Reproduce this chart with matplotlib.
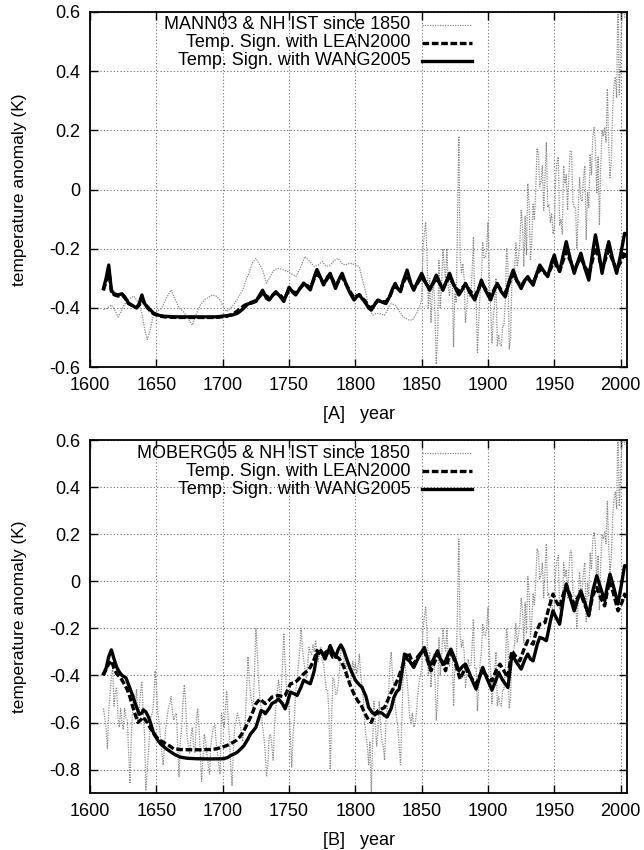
import numpy as np
import matplotlib
matplotlib.use("Agg")
import matplotlib.pyplot as plt
from matplotlib.ticker import FuncFormatter, MultipleLocator

# ---------------------------------------------------------------
#  data
# ---------------------------------------------------------------

# NH instrumental record (annual, 1850-2003), shared by both panels
ist_years = list(range(1850, 2004))
ist_vals = [
    -0.37, -0.20, -0.15, -0.11, -0.22, -0.40, -0.30, -0.45, -0.35, -0.31,
    -0.42, -0.59, -0.49, -0.24, -0.40, -0.32, -0.20, -0.26, -0.30, -0.20,
    -0.33, -0.36, -0.29, -0.30, -0.53, -0.35, -0.38, -0.10, 0.18, -0.23,
    -0.28, -0.25, -0.30, -0.45, -0.40, -0.33, -0.36, -0.36, -0.28, -0.16,
    -0.37, -0.37, -0.55, -0.45, -0.35, -0.30, -0.18, -0.23, -0.23, -0.20,
    -0.11, -0.29, -0.40, -0.52, -0.43, -0.38, -0.30, -0.53, -0.49, -0.52,
    -0.53, -0.46, -0.46, -0.38, -0.20, -0.25, -0.54, -0.50, -0.31, -0.30,
    -0.27, -0.18, -0.26, -0.23, -0.18, -0.07, -0.12, -0.26, -0.09, -0.22,
    0.02, -0.05, -0.24, -0.17, -0.05, -0.10, 0.00, 0.14, 0.12, 0.01,
    0.03, 0.08, -0.07, 0.05, 0.16, -0.06, -0.05, -0.11, -0.08, -0.15,
    -0.13, 0.04, 0.09, 0.11, -0.12, -0.10, -0.15, 0.08, 0.02, 0.05,
    -0.07, 0.05, 0.13, 0.13, -0.04, -0.06, -0.06, -0.20, -0.08, 0.04,
    -0.03, -0.04, 0.04, 0.08, -0.17, -0.01, -0.06, 0.12, 0.05, 0.18,
    0.21, 0.15, -0.01, 0.11, -0.12, 0.08, 0.20, 0.18, 0.21, 0.16,
    0.34, 0.15, 0.04, 0.10, 0.27, 0.35, 0.38, 0.31, 0.68, 0.32,
    0.45, 0.62, 0.66, 0.58,
]

# MANN03 reconstruction before 1850 (smooth)
mann_years = [1610, 1613, 1616, 1619, 1621, 1623, 1625, 1628, 1630, 1633,
              1636, 1639, 1641, 1643, 1645, 1648, 1651, 1654, 1657, 1661,
              1664, 1667, 1670, 1673, 1677, 1680, 1683, 1687, 1692, 1695,
              1698, 1701, 1703, 1706, 1708, 1711, 1715, 1718, 1720, 1722,
              1725, 1728, 1730, 1733, 1735, 1738, 1741, 1745, 1749, 1752,
              1755, 1758, 1762, 1765, 1769, 1772, 1775, 1778, 1781, 1784,
              1787, 1790, 1792, 1795, 1797, 1800, 1803, 1805, 1808, 1810,
              1813, 1816, 1819, 1822, 1825, 1827, 1830, 1833, 1836, 1840,
              1843, 1846, 1848, 1849]
mann_vals = [-0.406, -0.40, -0.39, -0.41, -0.43, -0.415, -0.395, -0.375, -0.367, -0.36,
             -0.38, -0.418, -0.47, -0.506, -0.48, -0.418, -0.41, -0.40, -0.37, -0.339,
             -0.37, -0.40, -0.41, -0.43, -0.458, -0.42, -0.39, -0.37, -0.356, -0.36,
             -0.373, -0.40, -0.412, -0.40, -0.39, -0.37, -0.339, -0.30, -0.28, -0.25,
             -0.232, -0.255, -0.271, -0.316, -0.30, -0.275, -0.266, -0.27, -0.277, -0.285,
             -0.294, -0.27, -0.226, -0.24, -0.26, -0.255, -0.243, -0.26, -0.255, -0.24,
             -0.232, -0.25, -0.255, -0.25, -0.249, -0.255, -0.26, -0.30, -0.35, -0.40,
             -0.424, -0.418, -0.42, -0.424, -0.40, -0.385, -0.39, -0.41, -0.43, -0.44,
             -0.441, -0.42, -0.40, -0.39]

# MOBERG05 reconstruction before 1850 (annual)
moberg_years = list(range(1610, 1850))
moberg_vals = [
    -0.54, -0.58, -0.62, -0.71, -0.55, -0.48, -0.40, -0.37, -0.53, -0.47,
    -0.45, -0.58, -0.62, -0.54, -0.60, -0.63, -0.54, -0.58, -0.59, -0.72,
    -0.86, -0.66, -0.55, -0.48, -0.52, -0.46, -0.60, -0.54, -0.47, -0.43,
    -0.55, -0.65, -0.89, -0.80, -0.73, -0.62, -0.57, -0.56, -0.50, -0.38,
    -0.45, -0.56, -0.60, -0.66, -0.72, -0.78, -0.70, -0.62, -0.58, -0.54,
    -0.52, -0.49, -0.55, -0.59, -0.57, -0.56, -0.70, -0.83, -0.68, -0.62,
    -0.51, -0.44, -0.52, -0.65, -0.70, -0.73, -0.66, -0.62, -0.70, -0.73,
    -0.60, -0.54, -0.61, -0.72, -0.85, -0.76, -0.65, -0.68, -0.73, -0.78,
    -0.82, -0.70, -0.65, -0.62, -0.61, -0.68, -0.73, -0.78, -0.82, -0.56,
    -0.60, -0.62, -0.54, -0.47, -0.58, -0.66, -0.78, -0.87, -0.72, -0.62,
    -0.60, -0.56, -0.58, -0.61, -0.64, -0.68, -0.63, -0.59, -0.45, -0.32,
    -0.42, -0.48, -0.52, -0.55, -0.38, -0.20, -0.30, -0.42, -0.50, -0.54,
    -0.62, -0.66, -0.73, -0.83, -0.78, -0.66, -0.65, -0.70, -0.76, -0.62,
    -0.54, -0.48, -0.42, -0.47, -0.48, -0.36, -0.22, -0.35, -0.45, -0.50,
    -0.54, -0.66, -0.79, -0.65, -0.58, -0.47, -0.42, -0.36, -0.30, -0.20,
    -0.28, -0.33, -0.38, -0.41, -0.36, -0.28, -0.30, -0.31, -0.27, -0.30,
    -0.25, -0.30, -0.34, -0.30, -0.28, -0.34, -0.35, -0.40, -0.46, -0.46,
    -0.55, -0.80, -0.60, -0.41, -0.42, -0.48, -0.48, -0.44, -0.38, -0.30,
    -0.28, -0.30, -0.37, -0.35, -0.39, -0.42, -0.45, -0.40, -0.34, -0.38,
    -0.34, -0.39, -0.36, -0.31, -0.40, -0.45, -0.50, -0.60, -0.66, -0.70,
    -0.78, -0.68, -0.91, -0.68, -0.51, -0.60, -0.70, -0.64, -0.51, -0.62,
    -0.68, -0.70, -0.76, -0.60, -0.54, -0.48, -0.36, -0.30, -0.40, -0.45,
    -0.52, -0.58, -0.62, -0.70, -0.78, -0.60, -0.40, -0.33, -0.38, -0.42,
    -0.50, -0.58, -0.60, -0.56, -0.62, -0.61, -0.56, -0.48, -0.43, -0.40,
]

# panel A: temperature signal, WANG2005 (solid) and LEAN2000 (dashed)
a_years = [1610, 1612, 1614, 1616, 1618, 1621, 1624, 1626, 1629, 1632,
           1635, 1637, 1639, 1641, 1643, 1645, 1648, 1652, 1656, 1665,
           1680, 1695, 1703, 1708, 1711, 1714, 1716, 1719, 1722, 1725,
           1728, 1730, 1733, 1735, 1738, 1740, 1743, 1746, 1748, 1750,
           1753, 1755, 1758, 1761, 1764, 1766, 1769, 1771, 1774, 1776,
           1779, 1781, 1783, 1785, 1788, 1790, 1793, 1796, 1799, 1801,
           1803, 1805, 1807, 1810, 1812, 1815, 1817, 1820, 1823, 1826,
           1828, 1830, 1832, 1834, 1836, 1839, 1842, 1844, 1847, 1850,
           1853, 1856, 1859, 1861, 1864, 1866, 1869, 1871, 1874, 1878,
           1881, 1883, 1886, 1890, 1893, 1895, 1898, 1902, 1905, 1907,
           1910, 1913, 1916, 1919, 1922, 1925, 1928, 1930, 1932, 1934,
           1937, 1939, 1942, 1945, 1948, 1950, 1952, 1954, 1957, 1959,
           1962, 1965, 1968, 1970, 1973, 1976, 1979, 1981, 1984, 1986,
           1989, 1991, 1994, 1997, 2000, 2003, 2004]
a_wang = [-0.335, -0.30, -0.255, -0.34, -0.352, -0.356, -0.352, -0.362, -0.384, -0.392,
          -0.40, -0.385, -0.356, -0.385, -0.395, -0.405, -0.418, -0.425, -0.428, -0.43,
          -0.43, -0.43, -0.426, -0.423, -0.418, -0.408, -0.40, -0.386, -0.383, -0.378,
          -0.355, -0.34, -0.368, -0.373, -0.355, -0.345, -0.36, -0.378, -0.355, -0.33,
          -0.348, -0.356, -0.335, -0.316, -0.33, -0.339, -0.295, -0.27, -0.30, -0.322,
          -0.295, -0.283, -0.31, -0.334, -0.30, -0.283, -0.32, -0.35, -0.373, -0.362,
          -0.356, -0.368, -0.379, -0.40, -0.407, -0.385, -0.373, -0.38, -0.385, -0.36,
          -0.335, -0.317, -0.335, -0.345, -0.31, -0.272, -0.32, -0.34, -0.31, -0.283,
          -0.315, -0.34, -0.31, -0.289, -0.32, -0.34, -0.305, -0.283, -0.32, -0.356,
          -0.335, -0.317, -0.345, -0.373, -0.335, -0.306, -0.34, -0.373, -0.335, -0.317,
          -0.345, -0.362, -0.31, -0.272, -0.31, -0.334, -0.305, -0.294, -0.31, -0.323,
          -0.28, -0.255, -0.275, -0.294, -0.245, -0.221, -0.255, -0.277, -0.215, -0.176,
          -0.235, -0.283, -0.24, -0.215, -0.265, -0.306, -0.21, -0.153, -0.225, -0.283,
          -0.215, -0.176, -0.235, -0.283, -0.22, -0.148, -0.15]
a_lean = [-0.34, -0.31, -0.27, -0.345, -0.355, -0.36, -0.356, -0.365, -0.385, -0.392,
          -0.398, -0.39, -0.37, -0.385, -0.398, -0.408, -0.42, -0.427, -0.43, -0.432,
          -0.432, -0.432, -0.428, -0.42, -0.41, -0.40, -0.392, -0.385, -0.38, -0.375,
          -0.36, -0.35, -0.36, -0.365, -0.355, -0.35, -0.355, -0.37, -0.355, -0.34,
          -0.345, -0.35, -0.335, -0.32, -0.325, -0.333, -0.30, -0.285, -0.30, -0.32,
          -0.30, -0.29, -0.305, -0.325, -0.305, -0.295, -0.32, -0.345, -0.365, -0.36,
          -0.355, -0.365, -0.375, -0.395, -0.40, -0.385, -0.375, -0.378, -0.38, -0.36,
          -0.34, -0.325, -0.335, -0.34, -0.315, -0.29, -0.32, -0.335, -0.315, -0.295,
          -0.315, -0.335, -0.315, -0.30, -0.32, -0.335, -0.31, -0.295, -0.32, -0.345,
          -0.33, -0.32, -0.34, -0.36, -0.335, -0.315, -0.335, -0.36, -0.335, -0.32,
          -0.34, -0.35, -0.315, -0.285, -0.31, -0.325, -0.305, -0.30, -0.31, -0.315,
          -0.285, -0.27, -0.28, -0.29, -0.26, -0.245, -0.26, -0.275, -0.235, -0.21,
          -0.24, -0.27, -0.245, -0.23, -0.26, -0.285, -0.235, -0.195, -0.235, -0.27,
          -0.23, -0.205, -0.24, -0.27, -0.245, -0.21, -0.23]

# panel B: temperature signal, WANG2005 (solid)
b_wang_years = [1610, 1612, 1614, 1616, 1618, 1620, 1622, 1624, 1627, 1629,
                1632, 1634, 1637, 1639, 1640, 1642, 1644, 1646, 1648, 1651,
                1653, 1657, 1661, 1664, 1668, 1673, 1680, 1690, 1701, 1704,
                1706, 1709, 1711, 1714, 1716, 1719, 1721, 1723, 1725, 1727,
                1729, 1731, 1732, 1735, 1737, 1740, 1742, 1745, 1747, 1749,
                1751, 1754, 1756, 1759, 1761, 1764, 1766, 1768, 1769, 1771,
                1773, 1774, 1776, 1777, 1780, 1781, 1783, 1785, 1787, 1789,
                1791, 1793, 1796, 1800, 1803, 1805, 1808, 1810, 1813, 1815,
                1818, 1820, 1822, 1824, 1827, 1829, 1831, 1833, 1835, 1837,
                1839, 1841, 1844, 1847, 1850, 1852, 1854, 1856, 1859, 1862,
                1864, 1867, 1870, 1872, 1875, 1878, 1881, 1883, 1886, 1888,
                1891, 1894, 1896, 1899, 1903, 1906, 1908, 1911, 1915, 1917,
                1918, 1921, 1925, 1928, 1930, 1932, 1934, 1937, 1939, 1942,
                1944, 1947, 1949, 1951, 1954, 1957, 1959, 1962, 1965, 1968,
                1970, 1973, 1976, 1979, 1982, 1985, 1988, 1990, 1992, 1995,
                1998, 2001, 2003, 2004]
b_wang = [-0.393, -0.37, -0.32, -0.291, -0.33, -0.365, -0.385, -0.40, -0.41, -0.44,
          -0.485, -0.52, -0.565, -0.56, -0.546, -0.555, -0.577, -0.61, -0.648, -0.675,
          -0.69, -0.71, -0.726, -0.737, -0.747, -0.752, -0.754, -0.755, -0.754, -0.748,
          -0.74, -0.733, -0.726, -0.71, -0.698, -0.67, -0.648, -0.635, -0.62, -0.585,
          -0.549, -0.555, -0.563, -0.54, -0.52, -0.51, -0.50, -0.52, -0.542, -0.51,
          -0.471, -0.478, -0.485, -0.45, -0.42, -0.43, -0.435, -0.40, -0.379, -0.308,
          -0.30, -0.294, -0.315, -0.33, -0.29, -0.273, -0.30, -0.322, -0.29, -0.27,
          -0.29, -0.323, -0.37, -0.42, -0.44, -0.45, -0.49, -0.536, -0.56, -0.565,
          -0.557, -0.56, -0.57, -0.576, -0.54, -0.494, -0.47, -0.458, -0.39, -0.309,
          -0.33, -0.34, -0.366, -0.33, -0.30, -0.281, -0.32, -0.359, -0.33, -0.295,
          -0.33, -0.352, -0.31, -0.288, -0.33, -0.38, -0.36, -0.352, -0.39, -0.42,
          -0.458, -0.40, -0.366, -0.41, -0.462, -0.42, -0.387, -0.42, -0.451, -0.36,
          -0.309, -0.34, -0.373, -0.33, -0.309, -0.33, -0.338, -0.27, -0.238, -0.245,
          -0.252, -0.17, -0.125, -0.15, -0.182, -0.07, -0.011, -0.07, -0.125, -0.07,
          -0.04, -0.09, -0.146, -0.04, 0.024, -0.03, -0.082, -0.02, 0.031, -0.03,
          -0.096, 0.0, 0.067, 0.065]

# panel B: temperature signal, LEAN2000 (dashed)
b_lean_years = [1610, 1613, 1616, 1618, 1620, 1623, 1625, 1628, 1630, 1633,
                1636, 1638, 1640, 1643, 1645, 1648, 1650, 1653, 1657, 1660,
                1663, 1668, 1675, 1685, 1693, 1698, 1703, 1706, 1710, 1713,
                1716, 1719, 1721, 1723, 1725, 1728, 1730, 1732, 1735, 1737,
                1740, 1742, 1745, 1747, 1749, 1751, 1754, 1756, 1759, 1761,
                1764, 1766, 1769, 1771, 1773, 1775, 1777, 1779, 1781, 1783,
                1786, 1788, 1791, 1793, 1796, 1799, 1802, 1804, 1807, 1810,
                1812, 1814, 1817, 1819, 1822, 1824, 1827, 1830, 1832, 1835,
                1837, 1840, 1842, 1844, 1847, 1850, 1852, 1854, 1857, 1860,
                1862, 1865, 1868, 1870, 1872, 1875, 1879, 1881, 1883, 1886,
                1888, 1891, 1894, 1896, 1900, 1903, 1906, 1909, 1912, 1915,
                1917, 1918, 1921, 1924, 1927, 1930, 1932, 1934, 1936, 1939,
                1941, 1943, 1946, 1949, 1951, 1954, 1957, 1959, 1962, 1965,
                1968, 1970, 1973, 1976, 1979, 1982, 1985, 1988, 1990, 1992,
                1995, 1998, 2001, 2003, 2004]
b_lean = [-0.40, -0.36, -0.337, -0.37, -0.393, -0.41, -0.429, -0.46, -0.492, -0.55,
          -0.60, -0.59, -0.577, -0.60, -0.62, -0.645, -0.662, -0.677, -0.69, -0.70,
          -0.712, -0.715, -0.716, -0.716, -0.714, -0.708, -0.698, -0.69, -0.677, -0.66,
          -0.634, -0.60, -0.577, -0.55, -0.52, -0.50, -0.51, -0.52, -0.505, -0.492,
          -0.488, -0.485, -0.49, -0.485, -0.46, -0.436, -0.43, -0.422, -0.405, -0.393,
          -0.38, -0.365, -0.33, -0.294, -0.305, -0.315, -0.305, -0.294, -0.30, -0.323,
          -0.32, -0.33, -0.36, -0.39, -0.44, -0.48, -0.51, -0.522, -0.56, -0.59,
          -0.60, -0.57, -0.55, -0.545, -0.536, -0.51, -0.472, -0.44, -0.416, -0.37,
          -0.338, -0.302, -0.33, -0.352, -0.32, -0.30, -0.295, -0.33, -0.38, -0.34,
          -0.309, -0.34, -0.38, -0.33, -0.295, -0.34, -0.416, -0.39, -0.366, -0.40,
          -0.415, -0.437, -0.40, -0.38, -0.41, -0.423, -0.38, -0.352, -0.38, -0.409,
          -0.33, -0.295, -0.32, -0.338, -0.29, -0.252, -0.26, -0.267, -0.22, -0.182,
          -0.18, -0.175, -0.11, -0.054, -0.08, -0.11, -0.05, -0.018, -0.06, -0.096,
          -0.065, -0.054, -0.10, -0.139, -0.06, -0.025, -0.07, -0.104, -0.04, 0.003,
          -0.06, -0.125, -0.09, -0.054, -0.07]

# ---------------------------------------------------------------
#  style
# ---------------------------------------------------------------
plt.rcParams.update({
    "font.family": ["Liberation Sans", "DejaVu Sans"],
    "font.size": 13,
    "axes.unicode_minus": False,
    "axes.linewidth": 1.3,
})

def fmt_y(v, pos):
    if abs(v) < 1e-9:
        return "0"
    return f"{v:.1f}"

def dibujar_panel(ax, rec_x, rec_y, x_l, y_l, x_w, y_w, nombre, etiqueta, ylim, yticks):
    ax.plot(rec_x, rec_y, color="#8a8a8a", lw=0.9, ls=(0, (1, 1)), zorder=2)
    ax.plot(x_l, y_l, color="black", lw=2.4, ls=(0, (2, 0.8)), zorder=3)
    ax.plot(x_w, y_w, color="black", lw=2.4, ls="-", zorder=4)

    ax.set_xlim(1600, 2005)
    ax.set_ylim(*ylim)
    ax.xaxis.set_major_locator(MultipleLocator(50))
    ax.set_yticks(yticks)
    ax.yaxis.set_major_formatter(FuncFormatter(fmt_y))
    ax.tick_params(direction="in", top=True, right=True, length=6, width=1,
                   labelsize=13, pad=7)
    ax.grid(True, color="#707070", lw=0.8, ls=(0, (1, 2)))
    ax.set_axisbelow(True)
    ax.set_ylabel("temperature anomaly (K)", fontsize=12.5, labelpad=16)
    ax.set_xlabel(etiqueta + "   year", fontsize=13, labelpad=9)

    # gnuplot-style key: right-aligned text followed by the line sample
    labels = [nombre + " & NH IST since 1850",
              "Temp. Sign. with LEAN2000",
              "Temp. Sign. with WANG2005"]
    styles = [dict(color="#8a8a8a", lw=0.9, ls=(0, (1, 1))),
              dict(color="black", lw=2.4, ls=(0, (2, 0.8))),
              dict(color="black", lw=2.4, ls="-")]
    fig_h = ax.get_window_extent().height
    for i, (lab, st) in enumerate(zip(labels, styles)):
        yy = 1 - (13 + 18 * i) / fig_h
        ax.text(0.596, yy, lab, transform=ax.transAxes, ha="right", va="center",
                fontsize=13)
        ax.plot([0.618, 0.711], [yy, yy], transform=ax.transAxes, clip_on=False, **st)


fig = plt.figure(figsize=(6.44, 8.5), dpi=100)
ax1 = fig.add_axes([0.14, 0.568, 0.834, 0.418])
ax2 = fig.add_axes([0.14, 0.067, 0.834, 0.415])

dibujar_panel(ax1, mann_years + ist_years, mann_vals + ist_vals,
              a_years, a_lean, a_years, a_wang,
              "MANN03", "[A]", (-0.6, 0.6), np.arange(-0.6, 0.61, 0.2))
dibujar_panel(ax2, moberg_years + ist_years, moberg_vals + ist_vals,
              b_lean_years, b_lean, b_wang_years, b_wang,
              "MOBERG05", "[B]", (-0.9, 0.6), np.arange(-0.8, 0.61, 0.2))

fig.savefig("out.png", dpi=100, facecolor="white")
